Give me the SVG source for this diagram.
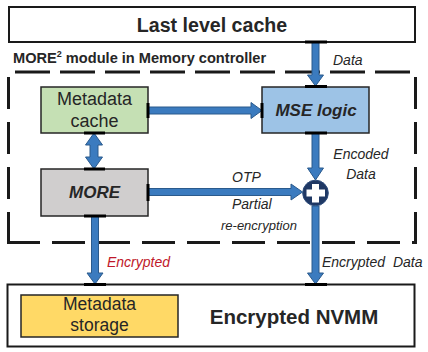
<svg xmlns="http://www.w3.org/2000/svg" width="428" height="352" viewBox="0 0 428 352">
<style>
.box{stroke:#262626;stroke-width:1.5}
.big{fill:#fff;stroke:#1a1a1a;stroke-width:2}
.dash{fill:none;stroke:#1a1a1a;stroke-width:3}
.arr{fill:#3b7bbf;stroke:#2b5a8c;stroke-width:1}
.bar{stroke:#000;stroke-width:3}
.t{font-family:"Liberation Sans",Arial,sans-serif;fill:#262626}
.lbl{font-family:"Liberation Sans",Arial,sans-serif;font-style:italic;font-size:14px;fill:#262626}
</style>
<rect width="428" height="352" fill="#fff"/>
<g id="module-boundary">
<line class="dash" x1="15" y1="72" x2="410" y2="72" stroke-dasharray="35 10"/>
<line class="dash" x1="8.5" y1="77" x2="8.5" y2="244" stroke-dasharray="32 13"/>
<line class="dash" x1="415.5" y1="77" x2="415.5" y2="244" stroke-dasharray="32 13"/>
<line class="dash" x1="7" y1="242.5" x2="417" y2="242.5" stroke-dasharray="33 12"/>
<text class="t" x="13" y="62.5" font-size="14.6" font-weight="bold">MORE<tspan font-size="9" dy="-5.5">2</tspan><tspan dy="5.5"> module in Memory controller</tspan></text>
</g>
<g id="llc">
<rect class="big" x="9" y="7" width="406" height="35"/>
<text class="t" x="212" y="31.5" font-size="19.6" font-weight="bold" text-anchor="middle">Last level cache</text>
</g>
<g id="metadata-cache">
<rect class="box" x="41" y="87" width="107" height="46" fill="#c5e0b4"/>
<text class="t" x="94.5" y="105" font-size="18" text-anchor="middle">Metadata</text>
<text class="t" x="94.5" y="126.5" font-size="18" text-anchor="middle">cache</text>
</g>
<g id="more">
<rect class="box" x="41" y="169" width="107" height="47" fill="#d0cece"/>
<text class="t" x="94.5" y="198" font-size="17" font-weight="bold" font-style="italic" text-anchor="middle">MORE</text>
</g>
<g id="mse-logic">
<rect class="box" x="262" y="87" width="107" height="46" fill="#9dc3e6"/>
<text class="t" x="316" y="115.5" font-size="17" font-weight="bold" font-style="italic" text-anchor="middle">MSE logic</text>
</g>
<g id="xor">
<circle cx="315.5" cy="193" r="12.8" fill="#1f3864" stroke="#2b4a7a" stroke-width="1"/>
<path d="M312 184h7v5.5h6v7h-6v6h-7v-6h-5.5v-7h5.5z" fill="#fff"/>
</g>
<g id="nvmm">
<rect class="big" x="7.5" y="284.5" width="407" height="62"/>
<text class="t" x="294" y="323.5" font-size="20.5" font-weight="bold" text-anchor="middle">Encrypted NVMM</text>
</g>
<g id="metadata-storage">
<rect class="box" x="21" y="295" width="157" height="42" fill="#ffd966"/>
<text class="t" x="99.5" y="310" font-size="17.5" text-anchor="middle">Metadata</text>
<text class="t" x="99.5" y="331" font-size="17.5" text-anchor="middle">storage</text>
</g>
<g id="connectors">
<polygon class="arr" points="312,42 319,42 319,75 323.5,75 315.5,86 307.5,75 312,75"/>
<polygon class="arr" points="148,107 251,107 251,102.5 262,110.5 251,118.5 251,114 148,114"/>
<polygon class="arr" points="94,133 102.5,145 98,145 98,157 102.5,157 94,169 85.5,157 90,157 90,145 85.5,145"/>
<polygon class="arr" points="312,133 319,133 319,168 323.5,168 315.5,180 307.5,168 312,168"/>
<polygon class="arr" points="148,188.5 291,188.5 291,184 302.5,192 291,200 291,195.5 148,195.5"/>
<polygon class="arr" points="312,206 319,206 319,273 323.5,273 315.5,284 307.5,273 312,273"/>
<polygon class="arr" points="91.5,216 98.5,216 98.5,273 103,273 95,284 87,273 91.5,273"/>
<line class="bar" x1="305" y1="42" x2="327" y2="42"/>
<line class="bar" x1="305" y1="86.5" x2="327" y2="86.5"/>
<line class="bar" x1="148" y1="103" x2="148" y2="118"/>
<line class="bar" x1="262" y1="103" x2="262" y2="118"/>
<line class="bar" x1="84" y1="133" x2="105" y2="133"/>
<line class="bar" x1="84" y1="169" x2="105" y2="169"/>
<line class="bar" x1="148" y1="184" x2="148" y2="201"/>
<line class="bar" x1="305" y1="133" x2="327" y2="133"/>
<line class="bar" x1="84" y1="216" x2="106" y2="216"/>
<line class="bar" x1="84" y1="284.5" x2="106" y2="284.5"/>
<line class="bar" x1="305" y1="284.5" x2="327" y2="284.5"/>
<text class="lbl" x="333" y="65">Data</text>
<text class="lbl" x="361" y="158.5" text-anchor="middle">Encoded</text>
<text class="lbl" x="361" y="178.5" text-anchor="middle">Data</text>
<text class="lbl" x="232" y="181.5">OTP</text>
<text class="lbl" x="232" y="208.5">Partial</text>
<text class="lbl" x="221" y="230" style="font-size:13px">re-encryption</text>
<text class="lbl" x="107" y="267" style="fill:#c0182a">Encrypted</text>
<text class="lbl" x="322" y="267" word-spacing="4">Encrypted Data</text>
</g>
</svg>
